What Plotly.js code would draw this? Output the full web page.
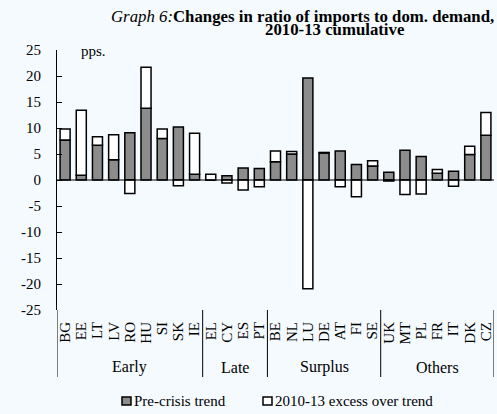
<!DOCTYPE html>
<html><head><meta charset="utf-8">
<script src="https://cdn.plot.ly/plotly-3.0.1.min.js"></script>
<style>html,body{margin:0;padding:0;background:#F5FAFE;}#chart{width:497px;height:414px;}</style>
</head><body><div id="chart"></div>
<script>
var countries = ['BG','EE','LT','LV','RO','HU','SI','SK','IE','EL','CY','ES','PT','BE','NL','LU','DE','AT','FI','SE','UK','MT','PL','FR','IT','DK','CZ'];
var preCrisis = [7.7,0.9,6.7,3.9,9.1,13.8,8.0,10.2,1.1,0.0,0.8,2.3,2.2,3.5,5.0,19.6,5.2,5.6,3.0,2.7,1.5,5.7,4.5,1.3,1.7,4.9,8.6];
var excess = [2.1,12.5,1.6,4.8,-2.6,7.9,1.8,-1.1,7.9,1.1,-0.6,-1.9,-1.3,2.1,0.5,-20.9,0.1,-1.3,-3.2,1.0,-0.2,-2.8,-2.7,0.7,-1.2,1.6,4.4];
var groups = ['Early','Late','Surplus','Others'];
var groupSizes = [9,4,7,7];
var yTicks = [-25,-20,-15,-10,-5,0,5,10,15,20,25];
var seriesNames = ['Pre-crisis trend','2010-13 excess over trend'];

var FONT = 'Liberation Serif';
var W = 497, H = 414, L = 57, R = 3, T = 50, B = 104;
var pw = W - L - R, ph = H - T - B;
function px(x){ return (x - L) / pw; }
function py(y){ return (H - B - y) / ph; }

var traces = [
  {type:'bar', name:seriesNames[0], x:countries, y:preCrisis,
   marker:{color:'#8C8C8C', line:{color:'#000', width:1.5}}, hoverinfo:'x+y'},
  {type:'bar', name:seriesNames[1], x:countries, y:excess,
   marker:{color:'#FFFFFF', line:{color:'#000', width:1.5}}, hoverinfo:'x+y'}
];

var shapes = [];
var annotations = [];
shapes.push({type:'line', xref:'paper', yref:'y', x0:0, x1:1, y0:0, y1:0, line:{color:'#000', width:1}, layer:'above'});
var start = 0;
var bounds = [-0.5];
for (var g = 0; g < groups.length; g++) {
  var end = start + groupSizes[g];
  bounds.push(end - 0.5);
  annotations.push({xref:'x', yref:'paper', x:(start + end - 1)/2, y:py(367), text:groups[g],
    showarrow:false, xanchor:'center', yanchor:'middle', font:{family:FONT, size:16, color:'#000'}});
  start = end;
}
bounds.forEach(function(b){
  shapes.push({type:'line', xref:'x', yref:'paper', x0:b, x1:b, y0:0, y1:py(377), line:{color:'#000', width:1}});
});

annotations.push({xref:'paper', yref:'paper', x:px(496), y:py(16), xanchor:'right', yanchor:'middle', showarrow:false,
  text:'<i>Graph 6:</i><b>Changes in ratio of imports to dom. demand,</b>', font:{family:FONT, size:16.8, color:'#000'}});
annotations.push({xref:'paper', yref:'paper', x:px(335), y:py(29.5), xanchor:'center', yanchor:'middle', showarrow:false,
  text:'<b>2010-13 cumulative</b>', font:{family:FONT, size:16.8, color:'#000'}});
annotations.push({xref:'paper', yref:'paper', x:px(79), y:py(51), xanchor:'left', yanchor:'middle', showarrow:false,
  text:'pps.', font:{family:FONT, size:15, color:'#000'}});

var legendItems = [{x:122, color:'#8C8C8C', text:seriesNames[0]}, {x:263, color:'#FFFFFF', text:seriesNames[1]}];
legendItems.forEach(function(it){
  shapes.push({type:'rect', xref:'paper', yref:'paper', x0:px(it.x), x1:px(it.x+9), y0:py(405), y1:py(397),
    fillcolor:it.color, line:{color:'#000', width:1.5}});
  annotations.push({xref:'paper', yref:'paper', x:px(it.x+10), y:py(401), xanchor:'left', yanchor:'middle', showarrow:false,
    text:it.text, font:{family:FONT, size:15, color:'#000'}});
});

var layout = {
  width:W, height:H, margin:{l:L, r:R, t:T, b:B},
  paper_bgcolor:'#F5FAFE', plot_bgcolor:'#F5FAFE',
  barmode:'relative', bargap:0.38, showlegend:false,
  font:{family:FONT, size:15, color:'#000'},
  xaxis:{type:'category', categoryorder:'array', categoryarray:countries, range:[-0.5, countries.length-0.5],
    tickmode:'linear', tick0:0, dtick:1,
    tickangle:-90, ticks:'', showline:false, showgrid:false, zeroline:false,
    tickfont:{family:FONT, size:15, color:'#000'}, ticklabelstandoff:8, automargin:false},
  yaxis:{range:[-25,25], tickvals:yTicks, ticktext:yTicks.map(String), ticks:'inside', ticklen:5, tickcolor:'#000',
    showline:true, linecolor:'#000', linewidth:1, showgrid:false, zeroline:false,
    tickfont:{family:FONT, size:15, color:'#000'}, ticklabelstandoff:12, automargin:false},
  shapes:shapes, annotations:annotations
};
Plotly.newPlot('chart', traces, layout, {displayModeBar:false, staticPlot:true});
</script></body></html>
